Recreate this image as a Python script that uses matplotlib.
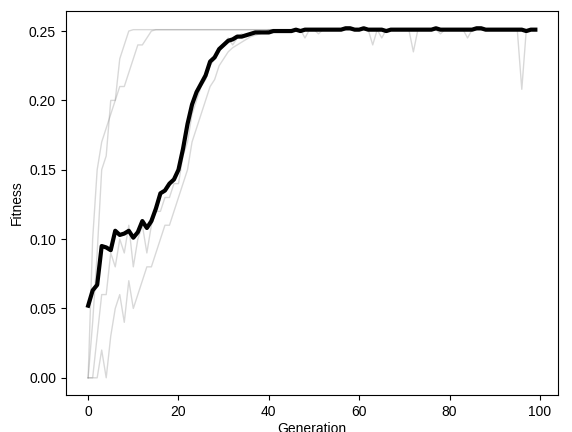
import matplotlib.pyplot as plt

plt.rcParams['font.family'] = ['Liberation Sans', 'DejaVu Sans']

# mean fitness per generation
mean_fitness = [
    0.052, 0.063, 0.067, 0.095, 0.094, 0.092, 0.106, 0.103, 0.104, 0.106,
    0.101, 0.105, 0.113, 0.108, 0.113, 0.122, 0.133, 0.135, 0.140, 0.143,
    0.150, 0.165, 0.183, 0.197, 0.206, 0.212, 0.218, 0.228, 0.231, 0.237,
    0.240, 0.243, 0.244, 0.246, 0.246, 0.247, 0.248, 0.249, 0.249, 0.249,
    0.249, 0.250, 0.250, 0.250, 0.250, 0.250, 0.251, 0.250, 0.251, 0.251,
    0.251, 0.251, 0.251, 0.251, 0.251, 0.251, 0.251, 0.252, 0.252, 0.251,
    0.251, 0.252, 0.251, 0.251, 0.251, 0.251, 0.250, 0.251, 0.251, 0.251,
    0.251, 0.251, 0.251, 0.251, 0.251, 0.251, 0.251, 0.252, 0.251, 0.251,
    0.251, 0.251, 0.251, 0.251, 0.251, 0.251, 0.252, 0.252, 0.251, 0.251,
    0.251, 0.251, 0.251, 0.251, 0.251, 0.251, 0.251, 0.250, 0.251, 0.251,
]

# a few individual runs
run_fast = [
    0.000, 0.040, 0.090, 0.150, 0.160, 0.200, 0.200, 0.230, 0.240, 0.250,
    0.251, 0.251, 0.251, 0.251, 0.251, 0.251, 0.251, 0.251, 0.251, 0.251,
    0.251, 0.251, 0.251, 0.251, 0.251, 0.251, 0.251, 0.251, 0.251, 0.251,
    0.251, 0.251, 0.251, 0.251, 0.251, 0.251, 0.251, 0.251, 0.251, 0.251,
    0.251, 0.251, 0.251, 0.251, 0.251, 0.251, 0.251, 0.251, 0.251, 0.251,
    0.251, 0.248, 0.251, 0.251, 0.251, 0.251, 0.251, 0.251, 0.251, 0.251,
    0.251, 0.251, 0.251, 0.251, 0.251, 0.251, 0.251, 0.251, 0.251, 0.251,
    0.251, 0.251, 0.251, 0.251, 0.251, 0.251, 0.251, 0.251, 0.248, 0.251,
    0.251, 0.251, 0.251, 0.251, 0.251, 0.251, 0.251, 0.251, 0.251, 0.251,
    0.251, 0.251, 0.251, 0.251, 0.251, 0.251, 0.251, 0.251, 0.251, 0.251,
]
run_high = [
    0.000, 0.100, 0.150, 0.170, 0.180, 0.190, 0.200, 0.210, 0.210, 0.220,
    0.230, 0.240, 0.240, 0.245, 0.250, 0.251, 0.251, 0.251, 0.251, 0.251,
    0.251, 0.251, 0.251, 0.251, 0.251, 0.251, 0.251, 0.251, 0.251, 0.251,
    0.251, 0.251, 0.251, 0.251, 0.251, 0.251, 0.251, 0.251, 0.251, 0.251,
    0.251, 0.251, 0.251, 0.251, 0.251, 0.251, 0.251, 0.251, 0.251, 0.251,
    0.251, 0.251, 0.251, 0.251, 0.251, 0.251, 0.251, 0.251, 0.251, 0.251,
    0.251, 0.251, 0.251, 0.251, 0.251, 0.245, 0.251, 0.251, 0.251, 0.251,
    0.251, 0.251, 0.251, 0.251, 0.251, 0.251, 0.251, 0.251, 0.251, 0.251,
    0.251, 0.251, 0.251, 0.251, 0.251, 0.251, 0.251, 0.251, 0.251, 0.251,
    0.251, 0.251, 0.251, 0.251, 0.251, 0.251, 0.251, 0.251, 0.251, 0.251,
]
run_mid = [
    0.000, 0.000, 0.030, 0.060, 0.060, 0.090, 0.080, 0.100, 0.090, 0.110,
    0.080, 0.100, 0.110, 0.090, 0.110, 0.120, 0.120, 0.130, 0.130, 0.140,
    0.140, 0.160, 0.170, 0.190, 0.200, 0.210, 0.215, 0.225, 0.230, 0.235,
    0.240, 0.245, 0.240, 0.245, 0.248, 0.246, 0.248, 0.249, 0.250, 0.249,
    0.251, 0.251, 0.251, 0.251, 0.251, 0.251, 0.251, 0.251, 0.245, 0.251,
    0.251, 0.251, 0.251, 0.251, 0.251, 0.251, 0.251, 0.251, 0.251, 0.251,
    0.251, 0.251, 0.251, 0.240, 0.251, 0.251, 0.251, 0.251, 0.251, 0.251,
    0.251, 0.251, 0.251, 0.251, 0.251, 0.251, 0.251, 0.251, 0.251, 0.251,
    0.251, 0.251, 0.251, 0.251, 0.245, 0.251, 0.251, 0.251, 0.251, 0.251,
    0.251, 0.251, 0.251, 0.251, 0.251, 0.251, 0.251, 0.251, 0.251, 0.251,
]
run_slow = [
    0.000, 0.000, 0.000, 0.020, 0.000, 0.030, 0.050, 0.060, 0.040, 0.070,
    0.050, 0.060, 0.070, 0.080, 0.080, 0.090, 0.100, 0.110, 0.110, 0.120,
    0.130, 0.140, 0.150, 0.170, 0.180, 0.190, 0.200, 0.210, 0.215, 0.225,
    0.230, 0.235, 0.238, 0.240, 0.242, 0.244, 0.246, 0.247, 0.248, 0.249,
    0.250, 0.250, 0.251, 0.251, 0.251, 0.251, 0.251, 0.251, 0.251, 0.251,
    0.251, 0.251, 0.251, 0.251, 0.251, 0.251, 0.251, 0.251, 0.251, 0.251,
    0.251, 0.251, 0.251, 0.251, 0.251, 0.251, 0.251, 0.251, 0.251, 0.251,
    0.251, 0.251, 0.235, 0.251, 0.251, 0.251, 0.251, 0.251, 0.251, 0.251,
    0.251, 0.251, 0.251, 0.251, 0.251, 0.251, 0.251, 0.251, 0.251, 0.251,
    0.251, 0.251, 0.251, 0.251, 0.251, 0.251, 0.208, 0.251, 0.251, 0.251,
]
runs = [run_fast, run_high, run_mid, run_slow]

generations = list(range(len(mean_fitness)))

fig, ax = plt.subplots(figsize=(5.72, 4.32), dpi=100)
for run in runs:
    ax.plot(generations, run, color='gray', alpha=0.3, linewidth=1)
ax.plot(generations, mean_fitness, color='black', linewidth=3)

ax.set_xlabel("Generation", labelpad=2)
ax.set_ylabel("Fitness")
fig.subplots_adjust(left=0.115, right=0.975, top=0.975, bottom=0.085)
fig.savefig("out.png")
